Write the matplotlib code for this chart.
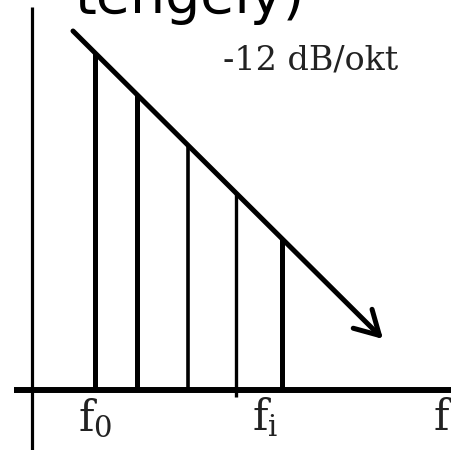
import matplotlib
matplotlib.use("Agg")
import matplotlib.pyplot as plt

# schematic spectrum: harmonics under a -12 dB/okt slope
freq = [63, 105, 156, 204, 250]
level = [337, 295, 245, 198, 151]
slope_start = (41, 359)
slope_end = (351, 51)
freq_labels = [r"$\mathrm{f}_0$", r"$\mathrm{f}_\mathrm{i}$"]
freq_label_x = [46, 220]
slope_text = "-12 dB/okt"
title_text = "tengely)"

plt.rcParams["mathtext.fontset"] = "dejavuserif"

fig = plt.figure(figsize=(4.52, 4.50), dpi=100)
ax = fig.add_axes([0, 0, 1, 1])
ax.set_xlim(-32, 420)
ax.set_ylim(-60, 390)
ax.axis("off")

# axes of the sketch
ax.plot([0, 0], [-60, 383], color="black", lw=2.3, solid_capstyle="butt")
ax.plot([-18, 420], [0, 0], color="black", lw=4.3, solid_capstyle="butt")

# harmonic lines
widths = [3.6, 3.6, 2.6, 2.4, 3.6]
for x, y, w in zip(freq, level, widths):
    ax.plot([x, x], [0, y], color="black", lw=w, solid_capstyle="butt")
ax.plot([freq[3], freq[3]], [-7, 0], color="black", lw=2.4, solid_capstyle="butt")

# slope arrow
ax.annotate("", xy=slope_end, xytext=slope_start,
            arrowprops=dict(arrowstyle="->,head_length=0.85,head_width=0.48",
                            color="black", lw=3.6, shrinkA=0, shrinkB=0,
                            mutation_scale=20))

ax.text(191, 320, slope_text, fontsize=24, family="DejaVu Serif",
        ha="left", va="baseline", color="#222222")

for lbl, x in zip(freq_labels, freq_label_x):
    ax.text(x, -40, lbl, fontsize=30, ha="left", va="baseline", color="#222222")
ax.text(401, -40, r"$\mathrm{f}$", fontsize=30, ha="left", va="baseline", color="#222222")

ax.text(43, 377, title_text, fontsize=40, family="DejaVu Sans",
        ha="left", va="baseline", color="black")

fig.savefig("out.png", dpi=100)
